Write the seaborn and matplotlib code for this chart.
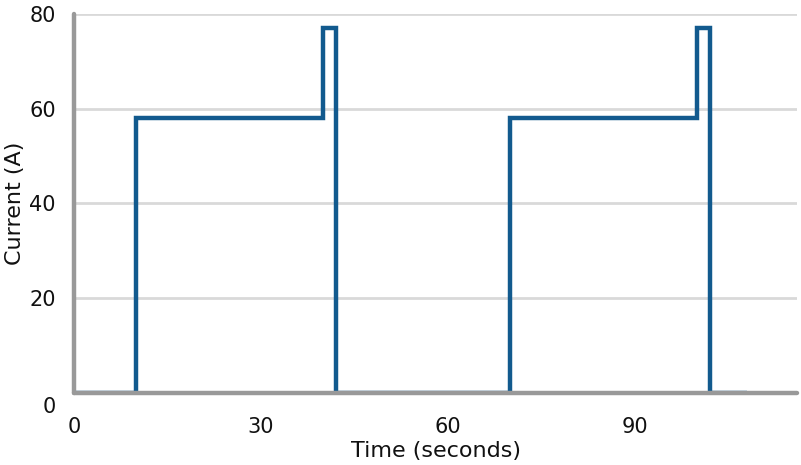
import matplotlib
matplotlib.use("Agg")
import matplotlib.pyplot as plt
import matplotlib.transforms as mtransforms
import pandas as pd
import seaborn as sns

# step profile: current holds until the next change time
time_s = [0, 10, 40, 42, 70, 100, 102, 108]
current_a = [0, 58, 77, 0, 58, 77, 0, 0]

x_ticks = [0, 30, 60, 90]
y_ticks = [0, 20, 40, 60, 80]

df = pd.DataFrame({"time": time_s, "current": current_a})

sns.set_style("white")
plt.rcParams["font.family"] = ["DejaVu Sans"]

fig = plt.figure(figsize=(8.01, 4.65), dpi=100)
ax = fig.add_axes([0.0924, 0.155, 0.9026, 0.815])

sns.lineplot(data=df, x="time", y="current", ax=ax, color="#125A8E",
             linewidth=3.2, drawstyle="steps-post", solid_joinstyle="miter",
             solid_capstyle="butt", zorder=2)

ax.set_xlim(0, 116)
ax.set_ylim(0, 80)
ax.set_xticks(x_ticks)
ax.set_yticks(y_ticks)

ax.grid(axis="y", color="#d9d9d9", linewidth=2)
ax.set_axisbelow(True)

for side in ["top", "right"]:
    ax.spines[side].set_visible(False)
for side in ["left", "bottom"]:
    ax.spines[side].set_color("#999999")
    ax.spines[side].set_linewidth(3.2)
    ax.spines[side].set_capstyle("round")
    ax.spines[side].set_zorder(3)

ax.tick_params(axis="both", length=0, labelsize=15, colors="#111111")
ax.tick_params(axis="y", pad=13)
ax.tick_params(axis="x", pad=17)

# Excel drops the "0" label a bit below the axis
lbl0 = ax.get_yticklabels()[0]
lbl0.set_transform(lbl0.get_transform() + mtransforms.ScaledTranslation(0, -0.12, fig.dpi_scale_trans))

ax.set_xlabel("Time (seconds)", fontsize=16, color="#111111")
ax.set_ylabel("Current (A)", fontsize=16, color="#111111")
ax.xaxis.label.set_va("center")
ax.yaxis.label.set_va("center")
ax.xaxis.set_label_coords(0.5, -0.153)
ax.yaxis.set_label_coords(-0.081, 0.5)

fig.savefig("out.png", dpi=100)
